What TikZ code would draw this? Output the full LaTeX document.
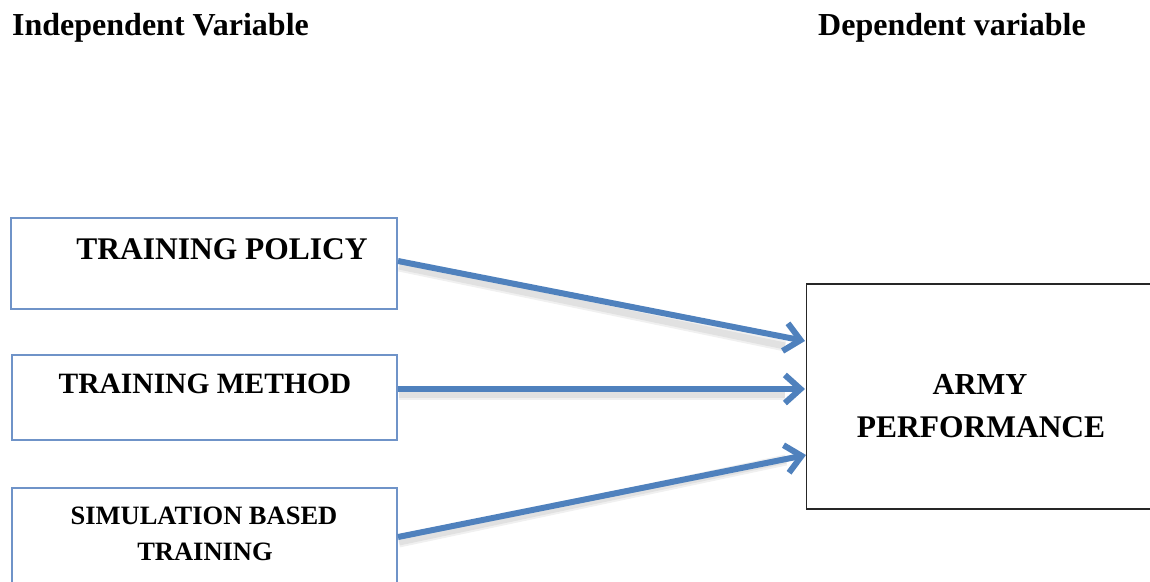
\documentclass[tikz,border=0pt]{standalone}
\usepackage{fontspec}
\setmainfont{Liberation Serif}
\usetikzlibrary{calc}
\definecolor{boxblue}{HTML}{6F93C8}
\definecolor{arrowblue}{HTML}{4F81BD}
\tikzset{
  x=1pt,y=1pt,
  ivbox/.style={draw=boxblue,line width=1.2pt,fill=white,rectangle,inner sep=0pt},
  dvbox/.style={draw=black!85,line width=1.2pt,fill=white,rectangle,inner sep=0pt},
  lbl/.style={anchor=base,inner sep=0pt,font=\bfseries},
  head/.style={anchor=base west,inner sep=0pt,font=\bfseries\fontsize{32}{38}\selectfont},
  link/.style={draw=arrowblue,line width=6pt},
  chevron/.style={draw=arrowblue,line width=6pt,line join=miter,line cap=butt},
  linkshadow/.style={draw=black,opacity=0.06,line width=9pt},
}
\begin{document}
\begin{tikzpicture}
\useasboundingbox (0,0) rectangle (1150,-581);
\clip (0,0) rectangle (1150,-581);
\fill[white] (0,0) rectangle (1150,-581);
% headings
\node[head] (hiv) at (12,-35) {Independent Variable};
\node[head] (hdv) at (818,-35) {Dependent variable};
% boxes
\node[ivbox,minimum width=386pt,minimum height=91pt] (b1) at (204,-263.5) {};
\node[ivbox,minimum width=385pt,minimum height=85pt] (b2) at (204.5,-397.5) {};
\node[ivbox,minimum width=385pt,minimum height=130pt] (b3) at (204.5,-553) {};
\node[dvbox,minimum width=344pt,minimum height=225pt] (b4) at (978.5,-396.5) {};
% labels
\node[lbl,font=\bfseries\fontsize{31.5}{36}\selectfont] (t1) at (222,-259) {TRAINING POLICY};
\node[lbl,font=\bfseries\fontsize{29.5}{36}\selectfont] (t2) at (205,-393) {TRAINING METHOD};
\node[lbl,font=\bfseries\fontsize{26.5}{32}\selectfont] (t3a) at (204,-524) {SIMULATION BASED};
\node[lbl,font=\bfseries\fontsize{26.5}{32}\selectfont] (t3b) at (205,-560) {TRAINING};
\node[lbl,font=\bfseries\fontsize{30.5}{36}\selectfont] (t4a) at (980,-394) {ARMY};
\node[lbl,font=\bfseries\fontsize{31.5}{36}\selectfont] (t4b) at (981,-437) {PERFORMANCE};
% connector end points
\coordinate (s1) at (398,-261);
\coordinate (e1) at (805,-341);
\coordinate (s2) at (398,-389);
\coordinate (e2) at (805,-389);
\coordinate (s3) at (398,-537);
\coordinate (e3) at (806,-455);
% soft shadows
\foreach \s/\e in {s1/e1,s2/e2,s3/e3}{
  \foreach \o in {4,6}{
    \draw[linkshadow] ([shift={(1,-\o)}]\s) -- ([shift={(-20,-\o)}]\e);
  }
}
% connectors with open chevron heads
\foreach \s/\e in {s1/e1,s2/e2,s3/e3}{
  \coordinate (v) at ($(\e)!4.5pt!(\s)$);
  \draw[link] (\s) -- ($(v)!3pt!(\s)$);
  \draw[chevron] ($(v)!21pt!42:(\s)$) -- (v) -- ($(v)!21pt!-42:(\s)$);
}
\end{tikzpicture}
\end{document}
